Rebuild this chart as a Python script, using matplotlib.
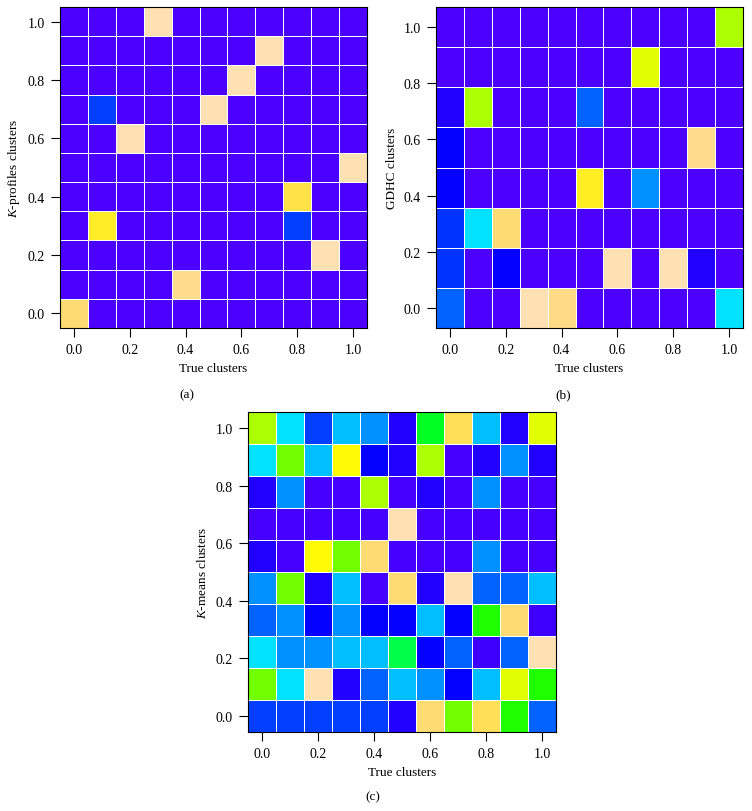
import numpy as np
import matplotlib
matplotlib.use("Agg")
import matplotlib.pyplot as plt
from matplotlib.colors import ListedColormap, hsv_to_rgb

plt.rcParams["font.family"] = "Liberation Serif"
plt.rcParams["mathtext.fontset"] = "custom"
plt.rcParams["mathtext.rm"] = "Liberation Serif"
plt.rcParams["mathtext.it"] = "Liberation Serif:italic"

# cell values (0..1), rows listed from the top of the panel (y = 1.0) down to y = 0.0
KPROF = [
    [0, 0, 0, 1, 0, 0, 0, 0, 0, 0, 0],
    [0, 0, 0, 0, 0, 0, 0, 1, 0, 0, 0],
    [0, 0, 0, 0, 0, 0, 1, 0, 0, 0, 0],
    [0, .15, 0, 0, 0, 1, 0, 0, 0, 0, 0],
    [0, 0, 1, 0, 0, 0, 0, 0, 0, 0, 0],
    [0, 0, 0, 0, 0, 0, 0, 0, 0, 0, 1],
    [0, 0, 0, 0, 0, 0, 0, 0, .80, 0, 0],
    [0, .74, 0, 0, 0, 0, 0, 0, .15, 0, 0],
    [0, 0, 0, 0, 0, 0, 0, 0, 0, 1, 0],
    [0, 0, 0, 0, .93, 0, 0, 0, 0, 0, 0],
    [.88, 0, 0, 0, 0, 0, 0, 0, 0, 0, 0],
]
GDHC = [
    [0, 0, 0, 0, 0, 0, 0, 0, 0, 0, .60],
    [0, 0, 0, 0, 0, 0, 0, .66, 0, 0, 0],
    [.046, .60, 0, 0, 0, .19, 0, 0, 0, 0, 0],
    [.083, 0, 0, 0, 0, 0, 0, 0, 0, .93, 0],
    [.083, 0, 0, 0, 0, .73, 0, .24, 0, 0, 0],
    [.14, .325, .88, 0, 0, 0, 0, 0, 0, 0, 0],
    [.14, 0, .083, 0, 0, 0, 1, 0, 1, .046, 0],
    [.19, 0, 0, 1, .92, 0, 0, 0, 0, 0, .325],
]
KMEANS = [
    [.60, .325, .15, .29, .24, .046, .38, .83, .29, .046, .66],
    [.325, .54, .29, .68, .083, .046, .60, .01, .046, .24, .046],
    [.046, .24, .01, .01, .60, .01, .046, .01, .24, .01, .01],
    [.01, .01, .01, .01, .01, 1, .01, .01, .01, .01, .01],
    [.046, .01, .68, .54, .88, .01, .01, .01, .24, .01, .01],
    [.24, .54, .046, .29, .01, .88, .046, 1, .19, .19, .29],
    [.19, .24, .083, .24, .083, .083, .29, .083, .45, .88, .02],
    [.325, .24, .24, .29, .29, .34, .083, .19, .02, .19, 1],
    [.54, .325, 1, .046, .19, .29, .24, .083, .29, .66, .45],
    [.15, .15, .15, .15, .15, .046, .88, .54, .83, .45, .19],
]
TICKS = [0.0, 0.2, 0.4, 0.6, 0.8, 1.0]
TICK_LABELS = ["0.0", "0.2", "0.4", "0.6", "0.8", "1.0"]


def topo_colors(n):
    # same recipe as R's topo.colors()
    j = k = n // 3
    i = n - j - k
    h = np.r_[np.linspace(43 / 60, 31 / 60, i), np.linspace(23 / 60, 11 / 60, j),
              np.linspace(10 / 60, 6 / 60, k)]
    s = np.r_[np.ones(i + j), np.linspace(1, 0.3, k)]
    return hsv_to_rgb(np.c_[h, s, np.ones(n)])


CMAP = ListedColormap(topo_colors(240))


def edges(n):
    c = np.linspace(0, 1, n)
    h = 0.5 / (n - 1)
    return np.r_[c - h, c[-1] + h]


def panel(ax, rows, ylabel):
    z = np.array(rows, dtype=float)[::-1]
    ny, nx = z.shape
    ax.pcolormesh(edges(nx), edges(ny), z, cmap=CMAP, vmin=0, vmax=1,
                  edgecolors="white", linewidth=0.5)
    ax.set_xticks(TICKS, TICK_LABELS)
    ax.set_yticks(TICKS, TICK_LABELS)
    ax.tick_params(labelsize=10, length=6.5, width=0.8, pad=4.5)
    ax.set_xlabel("True clusters", fontsize=9.5)
    ax.set_ylabel(ylabel, fontsize=9.5)
    ax.xaxis.set_label_coords(0.5, -0.105)
    ax.yaxis.set_label_coords(-0.125, 0.5)
    for sp in ax.spines.values():
        sp.set_linewidth(0.8)


fig = plt.figure(figsize=(7.52, 8.12), dpi=100)
W, H = 752, 812
axa = fig.add_axes([60 / W, 1 - 329 / H, 307 / W, 321 / H])
axb = fig.add_axes([436 / W, 1 - 329 / H, 307 / W, 321 / H])
axc = fig.add_axes([248 / W, 1 - 733 / H, 308 / W, 320 / H])

panel(axa, KPROF, r"$K$-profiles clusters")
panel(axb, GDHC, "GDHC clusters")
panel(axc, KMEANS, r"$K$-means clusters")

fig.text(187 / W, 1 - 395 / H, "(a)", ha="center", va="center", fontsize=9.5)
fig.text(563 / W, 1 - 395 / H, "(b)", ha="center", va="center", fontsize=9.5)
fig.text(373 / W, 1 - 797 / H, "(c)", ha="center", va="center", fontsize=9.5)

fig.savefig("out.png", dpi=100)
